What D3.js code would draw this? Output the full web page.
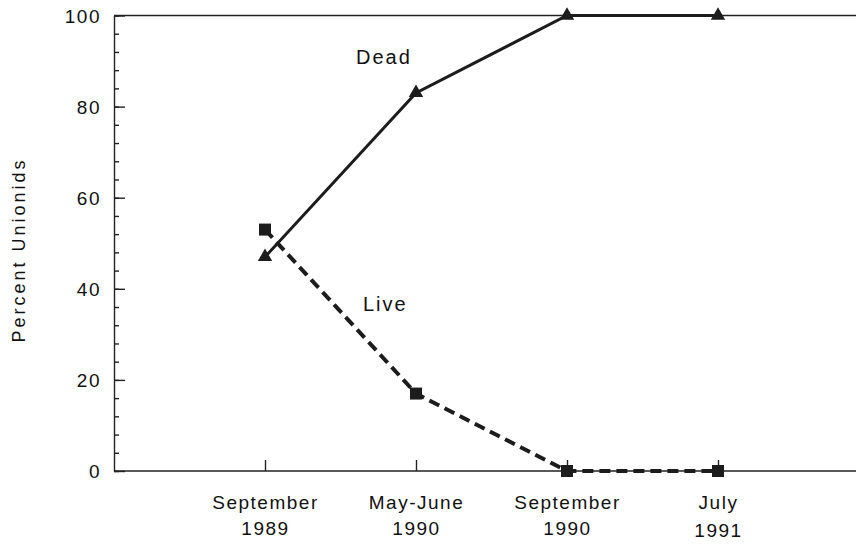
<!DOCTYPE html>
<meta charset="utf-8">
<style>
body { margin: 0; background: #fff; }
.axis path, .axis line { stroke: #222; stroke-width: 1.4px; }
.axis text { font-family: "Liberation Sans", Arial, sans-serif; font-size: 19px; fill: #111; letter-spacing: 1.5px; }
.lbl { font-family: "Liberation Sans", Arial, sans-serif; font-size: 20px; fill: #111; letter-spacing: 2px; }
.dead { fill: none; stroke: #1c1c1c; stroke-width: 3px; }
.live { fill: none; stroke: #1c1c1c; stroke-width: 4px; stroke-dasharray: 11,6; }
</style>
<body>
<svg id="svg" width="856" height="546"></svg>
<script src="https://cdnjs.cloudflare.com/ajax/libs/d3/7.8.5/d3.min.js"></script>
<script>

var periods = ["September", "May-June", "September", "July"];
var years = ["1989", "1990", "1990", "1991"];
var dead = [47, 83, 100, 100];
var live = [53, 17, 0, 0];
var yTicks = [0, 20, 40, 60, 80, 100];

var svg = d3.select("svg");

var x = d3.scaleLinear().domain([-1, 4]).range([114, 869]),
    y = d3.scaleLinear().domain([0, 100]).range([471, 15.5]);

// minor ticks on y (every 4)
svg.append("g")
    .attr("class", "axis")
    .attr("transform", "translate(114,0)")
    .call(d3.axisLeft(y).tickValues(d3.range(0, 101, 4)).tickSize(-5).tickFormat(""))
    .select(".domain").remove();

// y axis
var ya = svg.append("g")
    .attr("class", "axis")
    .attr("transform", "translate(114,0)")
    .call(d3.axisLeft(y).tickValues(yTicks).tickSizeInner(-11).tickSizeOuter(0).tickPadding(13));
ya.selectAll("text").attr("dy", "0.36em");

// x axis
var xa = svg.append("g")
    .attr("class", "axis")
    .attr("transform", "translate(0,471)")
    .call(d3.axisBottom(x).tickValues([0, 1, 2, 3]).tickSize(-11).tickFormat(""));
xa.select(".domain").attr("d", "M114,0H856");

xa.selectAll(".tick").each(function(d) {
  var t = d3.select(this).append("text").attr("text-anchor", "middle");
  t.append("tspan").attr("x", 0).attr("y", 38).text(periods[d]);
  t.append("tspan").attr("x", 0).attr("y", d === 3 ? 66 : 64).text(years[d]);
});

// top frame line
svg.append("line")
    .attr("x1", 114).attr("x2", 856)
    .attr("y1", y(100)).attr("y2", y(100))
    .attr("stroke", "#222").attr("stroke-width", 1.4);

var line = d3.line()
    .x(function(d, i) { return x(i); })
    .y(function(d) { return y(d); });

svg.append("path").datum(dead).attr("class", "dead").attr("d", line);
svg.append("path").datum(live).attr("class", "live").attr("d", line);

svg.selectAll(".tri").data(dead).enter().append("path")
    .attr("transform", function(d, i) { return "translate(" + x(i) + "," + y(d) + ")"; })
    .attr("d", d3.symbol().type(d3.symbolTriangle).size(90))
    .attr("fill", "#1c1c1c");

svg.selectAll(".sq").data(live).enter().append("rect")
    .attr("x", function(d, i) { return x(i) - 6; })
    .attr("y", function(d) { return y(d) - 6; })
    .attr("width", 12).attr("height", 12)
    .attr("fill", "#1c1c1c");

svg.append("text").attr("class", "lbl").attr("x", 356).attr("y", 64).text("Dead");
svg.append("text").attr("class", "lbl").attr("x", 363).attr("y", 311).text("Live");

svg.append("text")
    .attr("class", "lbl")
    .attr("transform", "translate(25,250) rotate(-90)")
    .attr("text-anchor", "middle")
    .style("font-size", "18px")
    .style("letter-spacing", "3px")
    .text("Percent Unionids");

</script>
</body>
